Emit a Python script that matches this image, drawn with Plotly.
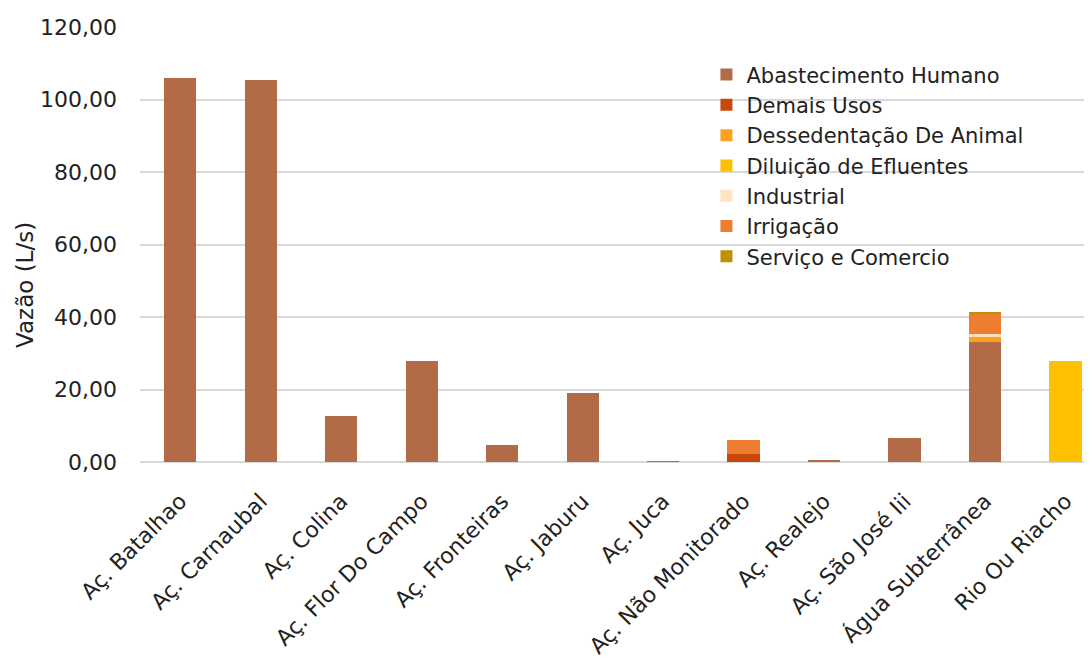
import plotly.graph_objects as go

categories = ["Aç. Batalhao", "Aç. Carnaubal", "Aç. Colina", "Aç. Flor Do Campo",
              "Aç. Fronteiras", "Aç. Jaburu", "Aç. Juca", "Aç. Não Monitorado",
              "Aç. Realejo", "Aç. São José Iii", "Água Subterrânea", "Rio Ou Riacho"]

abastecimento_humano = [105.9, 105.5, 12.7, 28.0, 4.7, 18.9, 0.01, 0, 0.5, 6.6, 33.1, 0]
demais_usos = [0, 0, 0, 0, 0, 0, 0, 2.3, 0, 0, 0, 0]
dessedentacao_animal = [0, 0, 0, 0, 0, 0, 0, 0, 0, 0, 1.4, 0]
diluicao_efluentes = [0, 0, 0, 0, 0, 0, 0, 0, 0, 0, 0, 27.9]
industrial = [0, 0, 0, 0, 0, 0, 0, 0, 0, 0, 0.8, 0]
irrigacao = [0, 0, 0, 0, 0, 0, 0, 3.7, 0, 0, 5.8, 0]
servico_comercio = [0, 0, 0, 0, 0, 0, 0, 0, 0, 0, 0.2, 0]

series = [
    ("Abastecimento Humano", abastecimento_humano, "#B26B46"),
    ("Demais Usos", demais_usos, "#C8480C"),
    ("Dessedentação De Animal", dessedentacao_animal, "#FBA31F"),
    ("Diluição de Efluentes", diluicao_efluentes, "#FFC000"),
    ("Industrial", industrial, "#FFE4BF"),
    ("Irrigação", irrigacao, "#ED7D31"),
    ("Serviço e Comercio", servico_comercio, "#BF9000"),
]

y_ticks = [0, 20, 40, 60, 80, 100, 120]
y_tick_labels = ["0,00", "20,00", "40,00", "60,00", "80,00", "100,00", "120,00"]

FONT = "DejaVu Sans"

fig = go.Figure()
for name, vals, color in series:
    fig.add_trace(go.Bar(x=categories, y=vals, name=name, marker_color=color,
                         marker_line_width=0, width=0.4))

fig.update_layout(
    barmode="stack",
    width=1084, height=651,
    margin=dict(l=132, r=0, t=19, b=197),
    paper_bgcolor="white", plot_bgcolor="white",
    font=dict(family=FONT, size=22, color="#222222"),
    legend=dict(x=0.595, y=0.937, xanchor="left", yanchor="top",
                traceorder="normal", font=dict(size=21, color="#222222"),
                bgcolor="rgba(0,0,0,0)"),
    xaxis=dict(range=[-0.5, 11.33], tickangle=-45, showgrid=False,
               showline=False, ticks="", tickfont=dict(size=22),
               automargin=False, ticklabelstandoff=21),
    yaxis=dict(range=[0, 120], tickvals=y_ticks, ticktext=y_tick_labels,
               showgrid=True, gridcolor="#D9D9D9", gridwidth=2,
               zeroline=True, zerolinecolor="#D9D9D9", zerolinewidth=2,
               ticks="", ticklabelstandoff=22, tickfont=dict(size=22),
               automargin=False),
)

fig.add_annotation(text="Vazão (L/s)", xref="paper", yref="paper",
                   x=-0.1208, y=0.407, textangle=-90, showarrow=False,
                   xanchor="center", yanchor="middle",
                   font=dict(family=FONT, size=23, color="#222222"))

fig.write_html("out.html")
